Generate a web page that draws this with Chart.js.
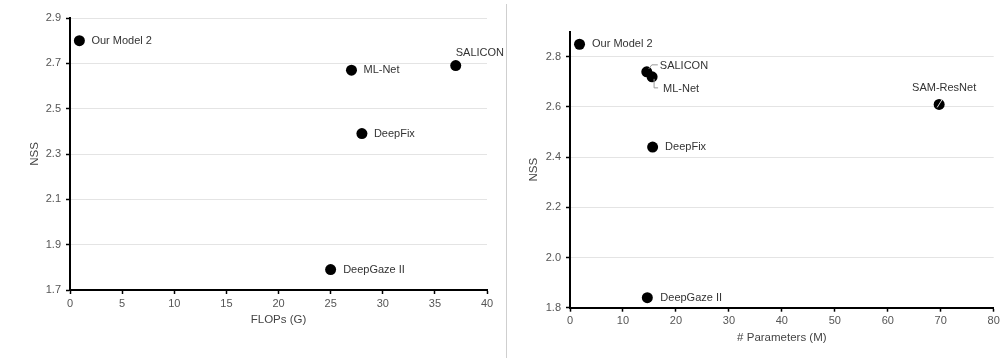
<!DOCTYPE html>
<html lang="en">
<head>
  <meta charset="UTF-8">
  <title>NSS vs FLOPs / Parameters</title>
  <script src="https://cdn.jsdelivr.net/npm/chart.js"></script>
  <style>
    body { margin: 0; background: #fff; }
    .wrap { position: relative; width: 1003px; height: 358px; overflow: hidden; }
    #boxLeft { position: absolute; left: 0; top: 0; width: 505px; height: 358px; }
    #boxRight { position: absolute; left: 507px; top: 0; width: 496px; height: 358px; }
    .divider { position: absolute; left: 506px; top: 4px; width: 1px; height: 354px; background: #cfcfcf; }
  </style>
</head>
<body>
  <div class="wrap">
    <div id="boxLeft"><canvas id="chartFlops"></canvas></div>
    <div class="divider"></div>
    <div id="boxRight"><canvas id="chartParams"></canvas></div>
  </div>

  <script>
    // left chart: NSS vs FLOPs
    const flopsModels = ["Our Model 2", "ML-Net", "SALICON", "DeepFix", "DeepGaze II"];
    const flopsX = [0.9, 27, 37, 28, 25];
    const flopsNSS = [2.80, 2.67, 2.69, 2.39, 1.79];
    const flopsYTicks = [1.7, 1.9, 2.1, 2.3, 2.5, 2.7, 2.9];

    // right chart: NSS vs # parameters
    const paramModels = ["Our Model 2", "SALICON", "ML-Net", "DeepFix", "DeepGaze II", "SAM-ResNet"];
    const paramX = [1.8, 14.5, 15.5, 15.6, 14.6, 69.7];
    const paramNSS = [2.85, 2.74, 2.72, 2.44, 1.84, 2.61];
    const paramYTicks = [1.8, 2.0, 2.2, 2.4, 2.6, 2.8];

    // label placement (offset from the point, px) and optional leader line
    const flopsLabelPos = [
      { dx: 12, dy: 0 },
      { dx: 12, dy: 0 },
      { dx: 0, dy: -12.5 },
      { dx: 12, dy: 0 },
      { dx: 12.5, dy: 0 }
    ];
    const paramLabelPos = [
      { dx: 12.5, dy: 0 },
      { dx: 13, dy: -6, lead: [[2, -3], [5, -7], [11, -7]] },
      { dx: 11, dy: 12, lead: [[2, 2], [2, 11], [6, 11]] },
      { dx: 12.5, dy: 0 },
      { dx: 13, dy: 0 },
      { dx: 5, dy: -16, align: "center", lead: [[-2, 3], [3, -5]], leadColor: "#ddd" }
    ];

    Chart.defaults.font.family = "'Liberation Sans', Arial, sans-serif";
    Chart.defaults.font.size = 11;
    Chart.defaults.color = "#555";

    function labelPlugin(names, pos) {
      return {
        id: "pointLabels",
        afterDatasetsDraw(chart) {
          const ctx = chart.ctx;
          const pts = chart.getDatasetMeta(0).data;
          ctx.save();
          ctx.font = "11px 'Liberation Sans', Arial, sans-serif";
          ctx.fillStyle = "#333";
          ctx.textBaseline = "middle";
          pts.forEach((p, i) => {
            const o = pos[i];
            if (o.lead) {
              ctx.beginPath();
              ctx.strokeStyle = o.leadColor || "#999";
              ctx.lineWidth = 1;
              o.lead.forEach((q, k) => {
                if (k === 0) ctx.moveTo(p.x + q[0], p.y + q[1]);
                else ctx.lineTo(p.x + q[0], p.y + q[1]);
              });
              ctx.stroke();
            }
            ctx.textAlign = o.align || "left";
            ctx.fillText(names[i], p.x + o.dx, p.y + o.dy);
          });
          ctx.restore();
        }
      };
    }

    function makeChart(id, names, xs, ys, labelPos, yTicks, xOpts, yOpts, pad) {
      const points = xs.map((x, i) => ({ x: x, y: ys[i] }));
      return new Chart(document.getElementById(id), {
        type: "scatter",
        data: {
          datasets: [{
            data: points,
            backgroundColor: "#000",
            borderWidth: 0,
            pointRadius: 5.5,
            pointHoverRadius: 5.5
          }]
        },
        options: {
          responsive: true,
          maintainAspectRatio: false,
          animation: false,
          events: [],
          layout: { padding: pad },
          plugins: { legend: { display: false }, tooltip: { enabled: false } },
          scales: {
            x: {
              type: "linear",
              min: xOpts.min,
              max: xOpts.max,
              ticks: { stepSize: xOpts.step, padding: 3, color: "#555" },
              grid: { drawOnChartArea: false, tickColor: "#000", tickLength: 4, tickWidth: 1.5 },
              border: { color: "#000", width: 2 },
              title: { display: true, text: xOpts.title, color: "#444", font: { size: 11.5 }, padding: { top: 4, bottom: xOpts.titlePad } },
              afterFit(s) { s.height = 45; }
            },
            y: {
              type: "linear",
              min: yOpts.min,
              max: yOpts.max,
              ticks: { padding: 5, color: "#555", callback: v => v.toFixed(1) },
              afterBuildTicks(s) { s.ticks = yTicks.map(v => ({ value: v })); },
              grid: { color: "#e4e4e4", lineWidth: 1, tickColor: "#000", tickLength: 4, tickWidth: 1.5 },
              border: { color: "#000", width: 2 },
              title: { display: true, text: "NSS", color: "#444", font: { size: 11.5 }, padding: { top: yOpts.titlePad, bottom: 0 } },
              afterFit(s) { s.width = yOpts.width; }
            }
          }
        },
        plugins: [labelPlugin(names, labelPos)]
      });
    }

    makeChart("chartFlops", flopsModels, flopsX, flopsNSS, flopsLabelPos, flopsYTicks,
      { min: 0, max: 40, step: 5, title: "FLOPs (G)", titlePad: 8.4 },
      { min: 1.7, max: 2.9, width: 70, titlePad: 28 },
      { left: 0, right: 18, top: 18, bottom: 23 });

    makeChart("chartParams", paramModels, paramX, paramNSS, paramLabelPos, paramYTicks,
      { min: 0, max: 80, step: 10, title: "# Parameters (M)", titlePad: 8 },
      { min: 1.8, max: 2.9, width: 63, titlePad: 19.5 },
      { left: 0, right: 9.3, top: 31.7, bottom: 5.3 });
  </script>
</body>
</html>
